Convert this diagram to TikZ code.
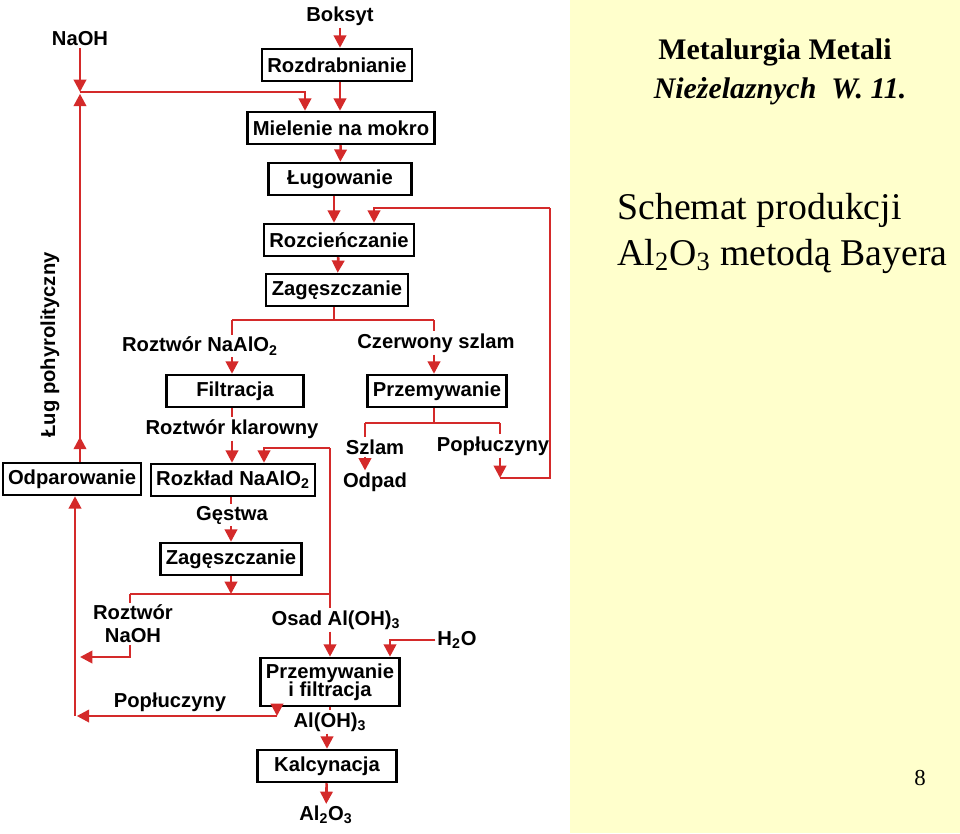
\documentclass[tikz,border=0pt]{standalone}
\usepackage{fontspec}
\setmainfont{Liberation Sans}
\newfontfamily\serif{Liberation Serif}
\usetikzlibrary{arrows.meta,positioning}
\definecolor{flow}{RGB}{212,42,42}
\definecolor{panel}{RGB}{255,255,204}
\tikzset{
  >={Triangle[length=7pt,width=7pt]},
  box/.style={draw, line width=1.4pt, font=\bfseries\fontsize{11.5}{12}\selectfont,
    minimum height=0.64cm, minimum width=#1*0.02cm, inner xsep=3pt, align=center},
  box/.default=100,
  lbl/.style={font=\bfseries\fontsize{11.5}{13}\selectfont, inner sep=1pt, align=center},
  line/.style={draw=flow, line width=1.5pt},
  arr/.style={line, ->},
}
\begin{document}
\begin{tikzpicture}[x=0.02cm, y=-0.02cm]
    \useasboundingbox (0,0) rectangle (960,833);
    \fill[panel] (570,0) rectangle (960,833);

    % title panel
    \node[font=\serif\bfseries\fontsize{17}{20}\selectfont] (tit1) at (775,52) {Metalurgia Metali};
    \node[font=\serif\bfseries\itshape\fontsize{17}{20}\selectfont] (tit2) at (780,91) {Nieżelaznych\ \ W. 11.};
    \node[font=\serif\fontsize{21.5}{24}\selectfont, anchor=west, inner sep=0pt] (tit3) at (617,210) {Schemat produkcji};
    \node[font=\serif\fontsize{21.5}{24}\selectfont, anchor=west, inner sep=0pt] (tit4) at (617,256) {Al\textsubscript{2}O\textsubscript{3} metodą Bayera};
    \node[font=\serif\fontsize{13}{15}\selectfont] (page) at (920,778) {8};

    % upper chain
    \node[lbl] (boksyt) at (340,16) {Boksyt};
    \node[lbl] (naoh) at (80,39) {NaOH};
    \node[box=148] (rozdr) at (337,65) {Rozdrabnianie};
    \node[box=182] (miel) at (341,128) {Mielenie na mokro};
    \node[box=143] (lug) at (340,179) {Ługowanie};
    \node[box=150] (rozc) at (339,240) {Rozcieńczanie};
    \node[box=142] (zag) at (337,290) {Zagęszczanie};
    \node[lbl] (rnaalo) at (200,346) {Roztwór NaAlO\textsubscript{2}};
    \node[lbl] (czerw) at (436,343) {Czerwony szlam};
    \node[box=137] (filtr) at (235,391) {Filtracja};
    \node[box=136] (przem) at (437,391) {Przemywanie};
    \node[lbl] (klar) at (232,429) {Roztwór klarowny};
    \node[lbl] (szlam) at (375,447) {Szlam};
    \node[lbl] (poplA) at (493,446) {Popłuczyny};
    \node[lbl] (odpad) at (375,482) {Odpad};
    \node[lbl, rotate=90] (lugp) at (50,345) {Ług pohyrolityczny};

    % lower chain
    \node[box=132] (odpar) at (72,479) {Odparowanie};
    \node[box=157] (rozkl) at (233,480) {Rozkład NaAlO\textsubscript{2}};
    \node[lbl] (gestwa) at (232,515) {Gęstwa};
    \node[box=136] (zagB) at (231,559) {Zagęszczanie};
    \node[lbl] (rnaoh) at (133,624) {Roztwór\\NaOH};
    \node[lbl] (osad) at (336,620) {Osad Al(OH)\textsubscript{3}};
    \node[lbl] (h2o) at (457,640) {H\textsubscript{2}O};
    \node[box=135] (przemB) at (330,682) {Przemywanie\\[-2pt]i filtracja};
    \node[lbl] (poplB) at (170,702) {Popłuczyny};
    \node[lbl] (aloh) at (330,722) {Al(OH)\textsubscript{3}};
    \node[box=139] (kalc) at (327,766) {Kalcynacja};
    \node[lbl] (al2o3) at (326,815) {Al\textsubscript{2}O\textsubscript{3}};

    % junctions
    \coordinate (mix) at (80,92);
    \coordinate (splitA) at (334,320);
    \coordinate (splitB) at (434,423);
    \coordinate (ret) at (550,208);
    \coordinate (splitC) at (330,594);
    \coordinate (back) at (75,716);

    \draw[arr] (boksyt) -- (rozdr.north -| boksyt);
    \draw[arr] (naoh) -- (mix);
    \draw[arr] (rozdr.south -| 340,0) -- (miel.north -| 340,0);
    \draw[arr] (mix) -| (miel.north -| 305,0);
    \draw[arr] (odpar.north -| mix) -- ++(0,-25);
    \draw[arr] (odpar.north -| mix) -- ([yshift=-1pt]mix);
    \draw[arr] (miel) -- (lug);
    \draw[arr] (lug.south -| 334,0) -- (rozc.north -| 334,0);
    \draw[arr] (rozc) -- (zag);
    \draw[line] (zag.south -| splitA) -- (splitA);
    \draw[line] (232,320) -- (434,320);
    \draw[line] (232,320) -- (rnaalo.north -| 232,0);
    \draw[line] (434,320) -- (czerw.north -| 434,0);
    \draw[arr] (rnaalo.south -| 232,0) -- (filtr.north -| 232,0);
    \draw[arr] (czerw.south -| 434,0) -- (przem.north -| 434,0);
    \draw[line] (filtr.south -| 232,0) -- (klar.north -| 232,0);
    \draw[arr] (klar.south -| 232,0) -- (rozkl.north -| 232,0);
    \draw[line] (przem.south -| splitB) -- (splitB);
    \draw[line] (365,423) -- (500,423);
    \draw[line] (365,423) -- (szlam.north -| 365,0);
    \draw[arr] (szlam.south -| 365,0) -- (odpad.north -| 365,0);
    \draw[line] (500,423) -- (poplA.north -| 500,0);
    \draw[arr] (poplA.south -| 500,0) -- (500,478);
    \draw[line] (500,478) -| (ret);
    \draw[arr] (ret) -| (rozc.north -| 374,0);

    \draw[line] (rozkl.south -| 231,0) -- (gestwa.north -| 231,0);
    \draw[arr] (gestwa.south -| 231,0) -- (zagB.north -| 231,0);
    \draw[arr] (zagB.south -| 231,0) -- (splitC -| 231,0);
    \draw[line] (130,594) -- (splitC);
    \draw[line] (130,594) -- (rnaoh.north -| 130,0);
    \draw[arr] (rnaoh.south -| 130,0) |- (80,657);
    \draw[line] (330,448) -- (splitC);
    \draw[arr] (330,448) -| (rozkl.north -| 264,0);
    \draw[line] (splitC) -- (osad.north -| 330,0);
    \draw[arr] (osad.south -| 330,0) -- (przemB.north -| 330,0);
    \draw[arr] (h2o.west) -| (przemB.north -| 390,0);
    \draw[arr] (przemB.south -| 277,0) -- (277,716);
    \draw[arr] (277,716) -- ([xshift=1pt]back);
    \draw[arr] (back) -- (odpar.south -| back);
    \draw[line] (przemB.south -| 330,0) -- (aloh.north -| 330,0);
    \draw[arr] (aloh.south -| 327,0) -- (kalc.north -| 327,0);
    \draw[arr] (kalc) -- (al2o3);
\end{tikzpicture}
\end{document}
